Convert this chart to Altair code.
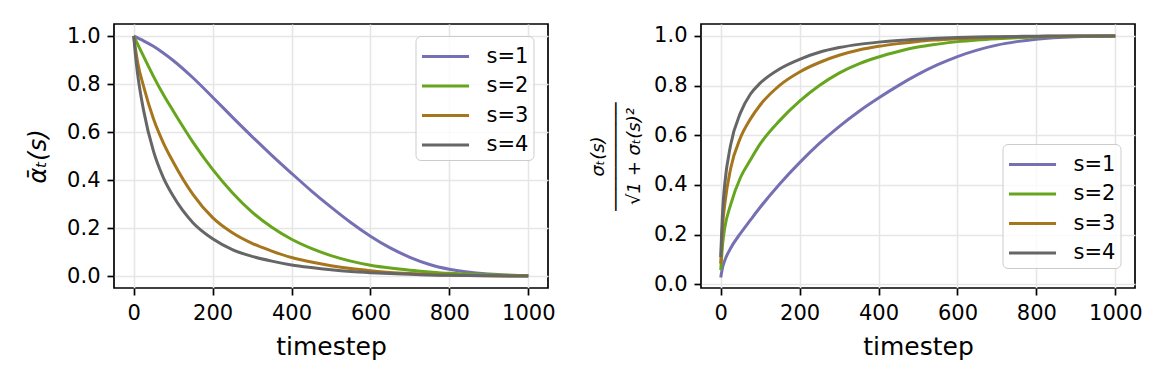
import altair as alt
import pandas as pd

T = [0, 5, 10, 25, 50, 75, 100, 150, 200, 250, 300, 350, 400, 450, 500, 550, 600, 650, 700, 750, 800, 900, 1000]

SERIES = ["s=1", "s=2", "s=3", "s=4"]
COLORS = ["#7570b3", "#66a61e", "#a6761d", "#666666"]

# left panel: alpha_bar_t(s)
L_S1 = [1.0, 0.996, 0.992, 0.98, 0.957, 0.929, 0.898, 0.826, 0.745, 0.662, 0.581, 0.503, 0.428, 0.355, 0.287, 0.223, 0.166, 0.117, 0.078, 0.048, 0.028, 0.008, 0.001]
L_S2 = [1.0, 0.983, 0.966, 0.915, 0.832, 0.756, 0.688, 0.558, 0.444, 0.347, 0.266, 0.203, 0.153, 0.115, 0.085, 0.062, 0.045, 0.033, 0.024, 0.017, 0.011, 0.005, 0.002]
L_S3 = [1.0, 0.94, 0.89, 0.79, 0.655, 0.555, 0.475, 0.34, 0.243, 0.18, 0.136, 0.104, 0.077, 0.058, 0.043, 0.031, 0.022, 0.015, 0.01, 0.006, 0.004, 0.001, 0.0]
L_S4 = [1.0, 0.91, 0.84, 0.69, 0.52, 0.41, 0.333, 0.222, 0.155, 0.11, 0.082, 0.062, 0.046, 0.035, 0.026, 0.019, 0.014, 0.01, 0.007, 0.004, 0.003, 0.001, 0.0]

# right panel: sigma_t(s) / sqrt(1 + sigma_t(s)^2)
R_S1 = [0.027, 0.07, 0.095, 0.145, 0.205, 0.258, 0.31, 0.405, 0.49, 0.567, 0.635, 0.696, 0.75, 0.8, 0.845, 0.884, 0.917, 0.943, 0.963, 0.977, 0.987, 0.997, 1.0]
R_S2 = [0.057, 0.165, 0.225, 0.32, 0.43, 0.5, 0.565, 0.66, 0.737, 0.8, 0.85, 0.887, 0.915, 0.937, 0.955, 0.967, 0.977, 0.984, 0.989, 0.993, 0.996, 0.999, 1.0]
R_S3 = [0.083, 0.24, 0.32, 0.465, 0.59, 0.665, 0.722, 0.802, 0.855, 0.893, 0.922, 0.943, 0.958, 0.969, 0.978, 0.984, 0.989, 0.992, 0.995, 0.997, 0.998, 1.0, 1.0]
R_S4 = [0.11, 0.3, 0.4, 0.56, 0.69, 0.765, 0.81, 0.868, 0.906, 0.934, 0.953, 0.966, 0.975, 0.982, 0.987, 0.991, 0.994, 0.996, 0.997, 0.998, 0.999, 1.0, 1.0]

X_TICKS = [0, 200, 400, 600, 800, 1000]
Y_TICKS = [0.0, 0.2, 0.4, 0.6, 0.8, 1.0]

FONT = "DejaVu Sans"


def long_df(cols):
    rows = []
    for i, (name, vals) in enumerate(zip(SERIES, cols)):
        for t, v in zip(T, vals):
            rows.append({"t": t, "v": v, "s": name, "o": i})
    return pd.DataFrame(rows)


left_df = long_df([L_S1, L_S2, L_S3, L_S4])
right_df = long_df([R_S1, R_S2, R_S3, R_S4])

W, H = 434, 264


def legend(x, y):
    return alt.Legend(
        orient="none", legendX=x, legendY=y, title=None,
        symbolType="M-1,0H2.36", symbolStrokeWidth=3, symbolSize=784,
        labelFontSize=21, labelFont=FONT, labelOffset=35,
        labelExpr="datum.label + '\u00a0\u2009'",
        rowPadding=3.5, padding=5, cornerRadius=5,
        strokeColor="#cccccc", fillColor="rgba(255,255,255,0.8)",
    )


def panel(df, ydomain, ytitle, ytitle_size, line_h, leg, title_pad):
    x = alt.X("t:Q", scale=alt.Scale(domain=[-50, 1050], nice=False, zero=False),
              axis=alt.Axis(values=X_TICKS, title="timestep", format="d"))
    y = alt.Y("v:Q", scale=alt.Scale(domain=ydomain, nice=False, zero=False),
              axis=alt.Axis(values=Y_TICKS, title=ytitle, format=".1f",
                            titleFontSize=ytitle_size, titlePadding=title_pad,
                            titleLineHeight=line_h, titleFontStyle="italic"))
    return alt.Chart(df).mark_line(strokeWidth=3, interpolate="monotone").encode(
        x=x, y=y,
        color=alt.Color("s:N", scale=alt.Scale(domain=SERIES, range=COLORS), legend=leg),
        order="o:Q",
        detail="s:N",
    ).properties(width=W, height=H)


left = panel(left_df, [-0.05, 1.05], "ᾱₜ(s)", 24, 24, legend(301.5, 12), 16)
right = panel(right_df, [-0.015, 1.048],
              ["σₜ(s)", "──────────", "√1 + σₜ(s)²"], 18, 18, legend(301.5, 120), 10)

chart = alt.hconcat(left, right, spacing=32).resolve_scale(color="independent").resolve_legend(
    color="independent"
).properties(
    padding={"left": 17, "top": 15, "right": 5, "bottom": 5}
).configure_view(
    stroke="black", strokeWidth=1.7
).configure_axis(
    grid=True, gridColor="#e6e6e6", gridWidth=1.6,
    domain=False, tickColor="black", tickSize=7, tickWidth=1.7,
    labelFont=FONT, labelFontSize=21, labelColor="black", labelPadding=7,
    titleFont=FONT, titleFontSize=25, titleFontWeight="normal", titleColor="black",
).configure_axisX(titlePadding=11)

chart.save("out.html", embed_options={"renderer": "svg", "actions": False})
